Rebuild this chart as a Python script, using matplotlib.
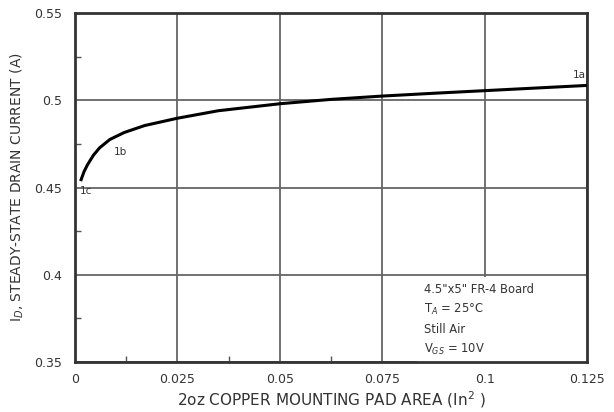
import numpy as np
import matplotlib.pyplot as plt
from matplotlib.patches import Rectangle

plt.rcParams['font.family'] = ['DejaVu Sans']

# data
area = [0.0015, 0.0022, 0.003, 0.0045, 0.006, 0.0085, 0.012, 0.017, 0.025, 0.035,
        0.05, 0.0625, 0.075, 0.0875, 0.1, 0.1125, 0.125]
current = [0.4545, 0.459, 0.4628, 0.4685, 0.4727, 0.4775, 0.4815, 0.4855, 0.4897, 0.494,
           0.498, 0.5005, 0.5024, 0.504, 0.5055, 0.507, 0.5085]

xticks = [0, 0.025, 0.05, 0.075, 0.1, 0.125]
xticklabels = ['0', '0.025', '0.05', '0.075', '0.1', '0.125']
yticks = [0.35, 0.4, 0.45, 0.5, 0.55]
yticklabels = ['0.35', '0.4', '0.45', '0.5', '0.55']

point_labels = ['1a', '1b', '1c']
point_pos = [(0.1215, 0.5125), (0.0095, 0.4685), (0.0013, 0.4465)]

note_lines = ['4.5"x5" FR-4 Board', r'T$_A$ = 25°C', 'Still Air', r'V$_{GS}$ = 10V']

txt = '#333333'

fig = plt.figure(figsize=(6.14, 4.12), dpi=100)
ax = fig.add_axes([0.1221, 0.1214, 0.8339, 0.847])

ax.set_xlim(0, 0.125)
ax.set_ylim(0.35, 0.55)
ax.set_xticks(xticks)
ax.set_xticklabels(xticklabels)
ax.set_yticks(yticks)
ax.set_yticklabels(yticklabels)
ax.set_xticks(np.arange(0.0125, 0.125, 0.025), minor=True)
ax.set_yticks(np.arange(0.375, 0.55, 0.05), minor=True)
ax.tick_params(which='both', direction='in', colors='#555555', labelcolor=txt,
               labelsize=9)
ax.tick_params(axis='x', pad=8)
ax.tick_params(axis='y', pad=9)
ax.tick_params(which='major', length=0)
ax.tick_params(which='minor', length=4, width=1)

ax.set_axisbelow(True)
ax.grid(True, which='major', color='#666666', linewidth=1.3)

# white area behind the note, hides the grid there
ax.add_patch(Rectangle((0.0835, 0.35), 0.0415, 0.0485, facecolor='white',
                       edgecolor='none', zorder=1))

for s in ax.spines.values():
    s.set_linewidth(2)
    s.set_color('#333333')

ax.plot(area, current, color='black', linewidth=2.2, zorder=3)

for lab, (px, py) in zip(point_labels, point_pos):
    ax.text(px, py, lab, fontsize=7.5, color=txt, zorder=4)

for i, line in enumerate(note_lines):
    ax.text(0.0852, 0.3915 - i * 0.0115, line, fontsize=8.3, color=txt,
            va='center', zorder=4)

ax.set_xlabel(r'2oz COPPER MOUNTING PAD AREA (In$^2$ )', fontsize=11, color=txt, labelpad=2)
ax.set_ylabel(r'I$_D$, STEADY-STATE DRAIN CURRENT (A)', fontsize=10, color=txt, labelpad=6)

fig.savefig('out.png', dpi=100)
